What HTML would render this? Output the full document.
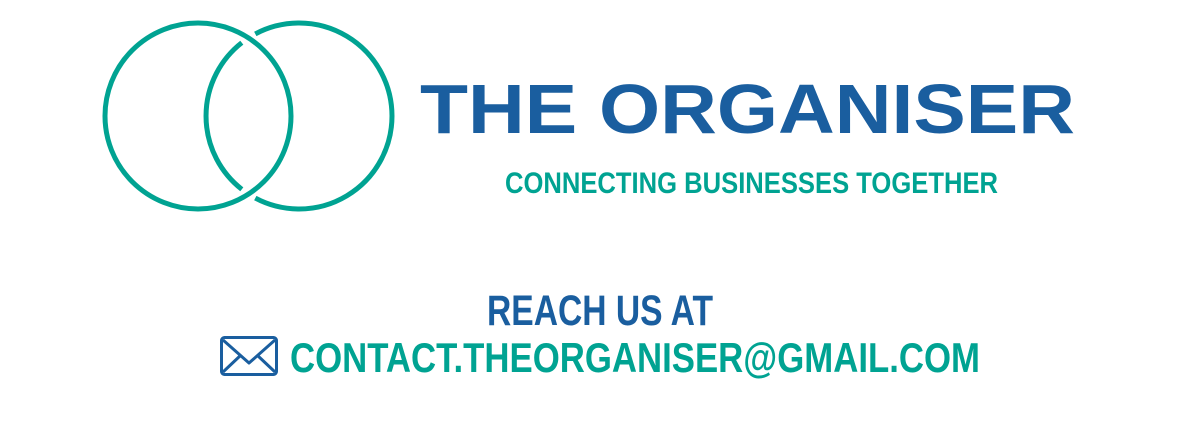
<!DOCTYPE html>
<html><head><meta charset="utf-8"><style>
html,body{margin:0;padding:0;background:#fff;width:1200px;height:429px;overflow:hidden}
svg{display:block}
text{font-family:"Liberation Sans",sans-serif;font-weight:bold}
</style></head><body>
<svg width="1200" height="429" viewBox="0 0 1200 429">
<g fill="none" stroke="#00a392" stroke-width="5">
<circle cx="198" cy="116" r="93"/>
<path d="M 255.3 33.9 A 93 93 0 1 1 255.3 198.1"/>
<path d="M 241.8 189.3 A 93 93 0 0 1 241.8 42.7"/>
</g>
<text x="420" y="133" font-size="70" fill="#1a5e9f" textLength="655" lengthAdjust="spacingAndGlyphs">THE ORGANISER</text>
<text x="505" y="193" font-size="30" fill="#00a392" textLength="493" lengthAdjust="spacingAndGlyphs">CONNECTING BUSINESSES TOGETHER</text>
<text x="487" y="325" font-size="43" fill="#1a5e9f" textLength="226" lengthAdjust="spacingAndGlyphs">REACH US AT</text>
<g fill="none" stroke="#1a5e9f" stroke-width="3" stroke-linejoin="round">
<rect x="221.5" y="337.5" width="55" height="37" rx="3"/>
<path d="M223 340 L249 363 L275 340 M223 372 L241 355 M275 372 L257 355"/>
</g>
<text x="290" y="372" font-size="42" fill="#00a392" textLength="690" lengthAdjust="spacingAndGlyphs">CONTACT.THEORGANISER@GMAIL.COM</text>
</svg>
</body></html>
